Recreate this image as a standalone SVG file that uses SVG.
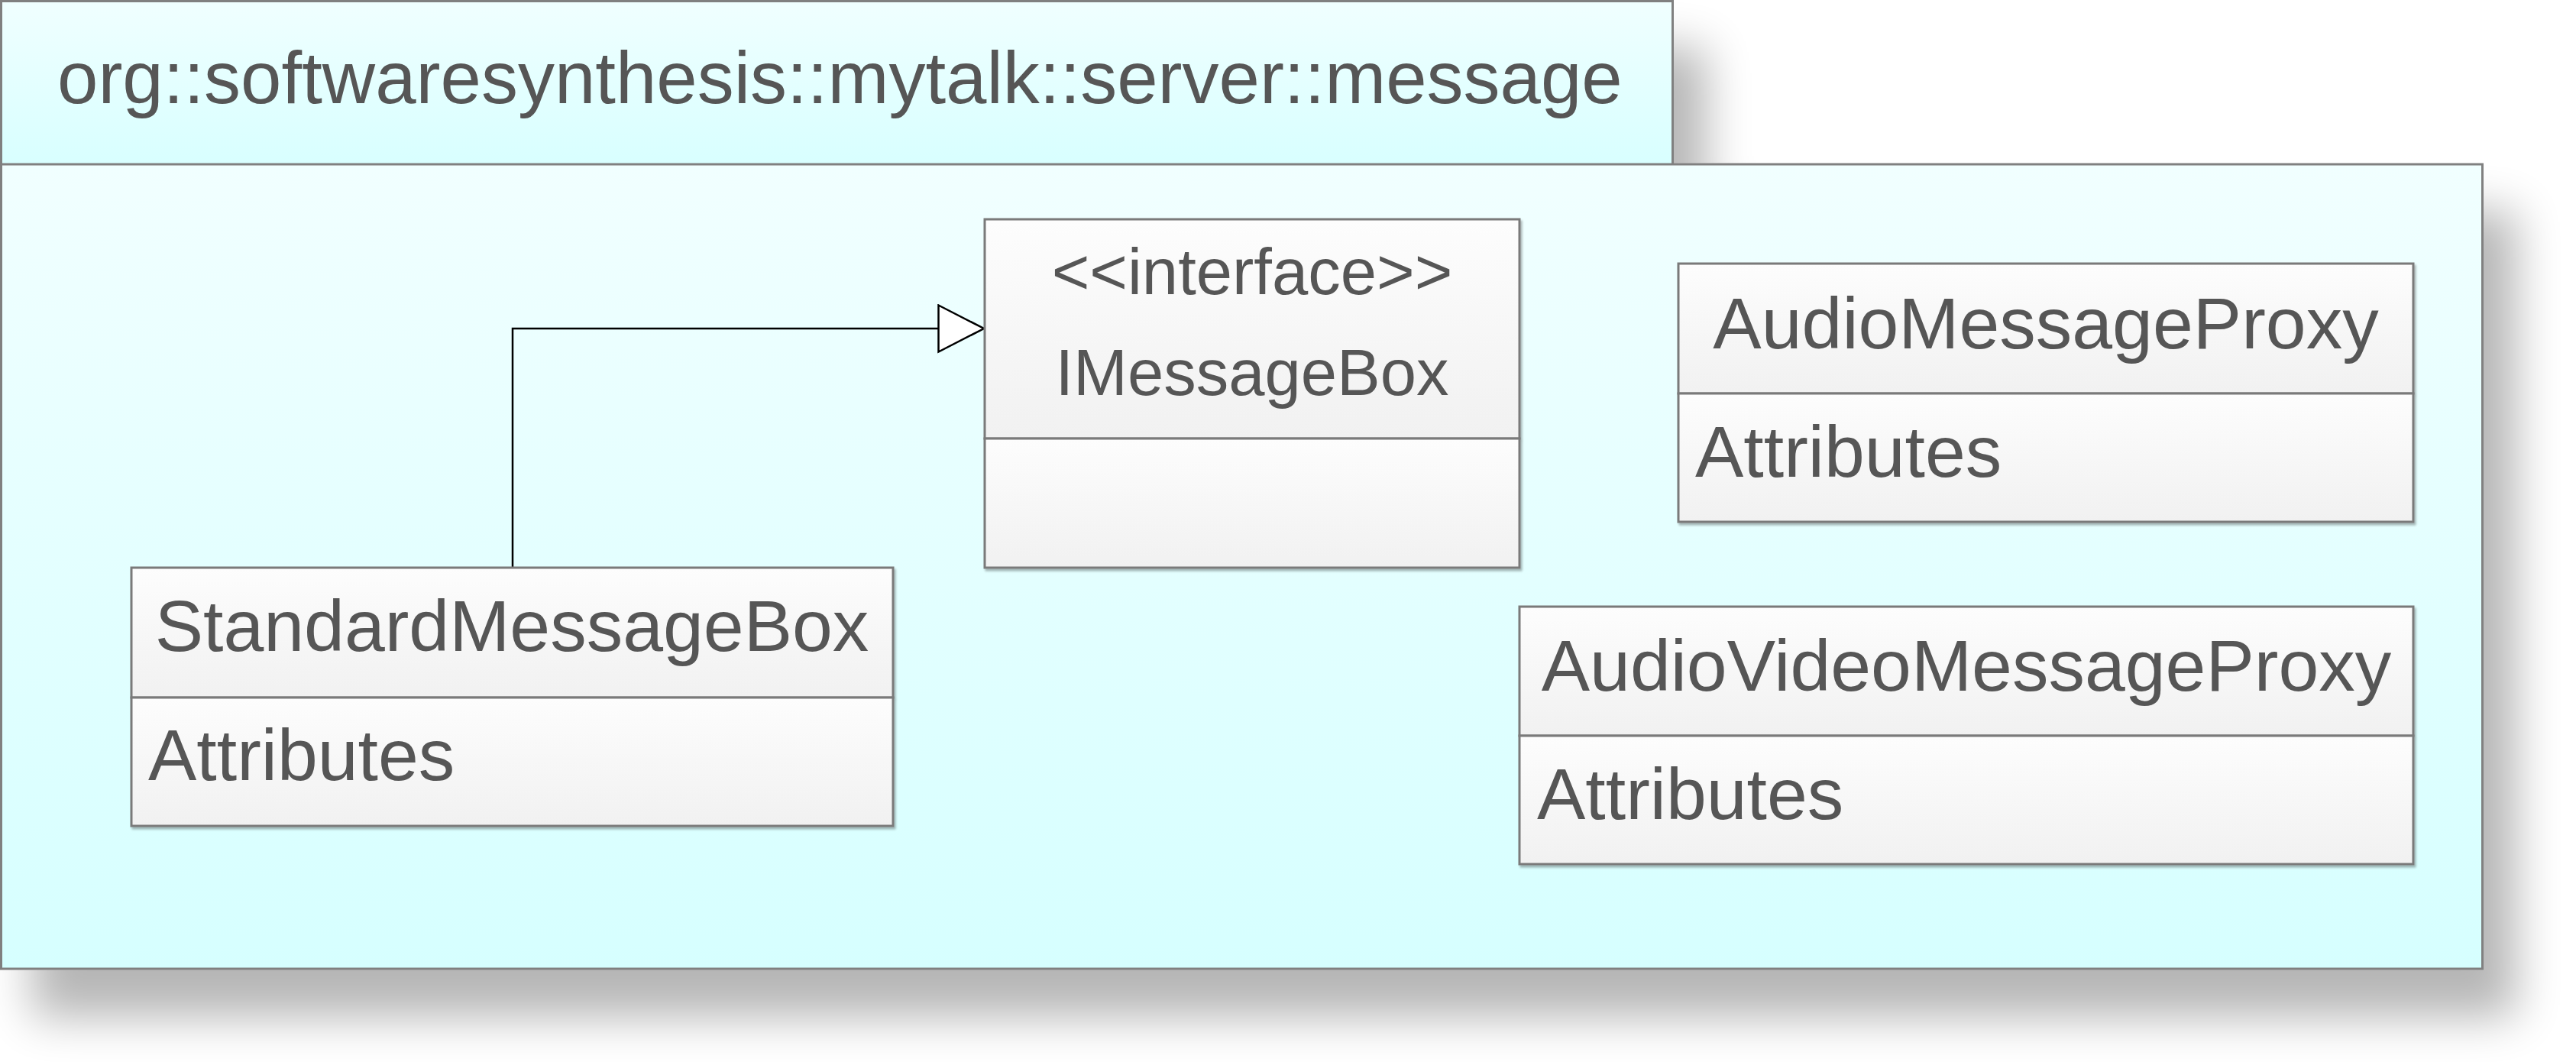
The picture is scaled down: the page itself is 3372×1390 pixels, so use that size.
<svg xmlns="http://www.w3.org/2000/svg" width="3372" height="1390" viewBox="0 0 3372 1390">
<style>
  .pkg { stroke: #808080; stroke-width: 3; }
  .box { stroke: #7a7a7a; stroke-width: 3; fill: url(#boxGrad); }
  .t { font-family: "Liberation Sans", Arial, sans-serif; fill: #575757; }
  .name { font-size: 95px; text-anchor: middle; }
  .attr { font-size: 95px; }
  .iface { font-size: 85px; text-anchor: middle; }
  .title { font-size: 96px; }
  .conn { stroke: #000; stroke-width: 2.5; fill: none; }
</style>
<defs>
  <linearGradient id="tabGrad" x1="0" y1="0" x2="0" y2="1">
    <stop offset="0" stop-color="#f0ffff"/>
    <stop offset="1" stop-color="#d8ffff"/>
  </linearGradient>
  <linearGradient id="bodyGrad" x1="0" y1="0" x2="0" y2="1">
    <stop offset="0" stop-color="#f1ffff"/>
    <stop offset="1" stop-color="#d6ffff"/>
  </linearGradient>
  <linearGradient id="boxGrad" x1="0" y1="0" x2="0" y2="1">
    <stop offset="0" stop-color="#fdfdfd"/>
    <stop offset="1" stop-color="#f1f1f1"/>
  </linearGradient>
  <filter id="pkgShadow" x="-5%" y="-5%" width="115%" height="130%">
    <feGaussianBlur in="SourceAlpha" stdDeviation="30"/>
    <feOffset dx="42" dy="62"/>
    <feComponentTransfer><feFuncA type="linear" slope="0.29"/></feComponentTransfer>
    <feMerge><feMergeNode/><feMergeNode in="SourceGraphic"/></feMerge>
  </filter>
  <filter id="boxShadow" x="-5%" y="-5%" width="110%" height="115%">
    <feGaussianBlur in="SourceAlpha" stdDeviation="1.5"/>
    <feOffset dx="2" dy="3"/>
    <feComponentTransfer><feFuncA type="linear" slope="0.3"/></feComponentTransfer>
    <feMerge><feMergeNode/><feMergeNode in="SourceGraphic"/></feMerge>
  </filter>
  <marker id="realize" markerUnits="userSpaceOnUse" markerWidth="66" markerHeight="66" refX="61" refY="32" orient="auto">
    <path d="M1.5,1.5 L61,32 L1.5,62.5 Z" fill="#fff" stroke="#000" stroke-width="2.5"/>
  </marker>
</defs>
<rect width="3372" height="1390" fill="#fff"/>

<g id="package" filter="url(#pkgShadow)">
  <rect class="pkg" x="1.5" y="1.5" width="2188" height="214" fill="url(#tabGrad)"/>
  <rect class="pkg" x="1.5" y="215" width="3248" height="1053" fill="url(#bodyGrad)"/>
  <text class="t title" x="75" y="135">org::softwaresynthesis::mytalk::server::message</text>
</g>

<g id="connectors">
  <path class="conn" d="M671,743 L671,430 L1288,430" marker-end="url(#realize)"/>
</g>

<g id="IMessageBox" filter="url(#boxShadow)">
  <rect class="box" x="1289" y="287" width="700" height="287"/>
  <rect class="box" x="1289" y="574" width="700" height="169"/>
  <text class="t iface" x="1639" y="385">&lt;&lt;interface&gt;&gt;</text>
  <text class="t iface" x="1639" y="517">IMessageBox</text>
</g>

<g id="StandardMessageBox" filter="url(#boxShadow)">
  <rect class="box" x="172" y="743" width="997" height="170"/>
  <rect class="box" x="172" y="913" width="997" height="168"/>
  <text class="t name" x="670" y="852">StandardMessageBox</text>
  <text class="t attr" x="194" y="1021">Attributes</text>
</g>

<g id="AudioMessageProxy" filter="url(#boxShadow)">
  <rect class="box" x="2197" y="345" width="962" height="170"/>
  <rect class="box" x="2197" y="515" width="962" height="168"/>
  <text class="t name" x="2678" y="456">AudioMessageProxy</text>
  <text class="t attr" x="2219" y="624">Attributes</text>
</g>

<g id="AudioVideoMessageProxy" filter="url(#boxShadow)">
  <rect class="box" x="1989" y="794" width="1170" height="169"/>
  <rect class="box" x="1989" y="963" width="1170" height="168"/>
  <text class="t name" x="2574" y="904">AudioVideoMessageProxy</text>
  <text class="t attr" x="2012" y="1072">Attributes</text>
</g>
</svg>
